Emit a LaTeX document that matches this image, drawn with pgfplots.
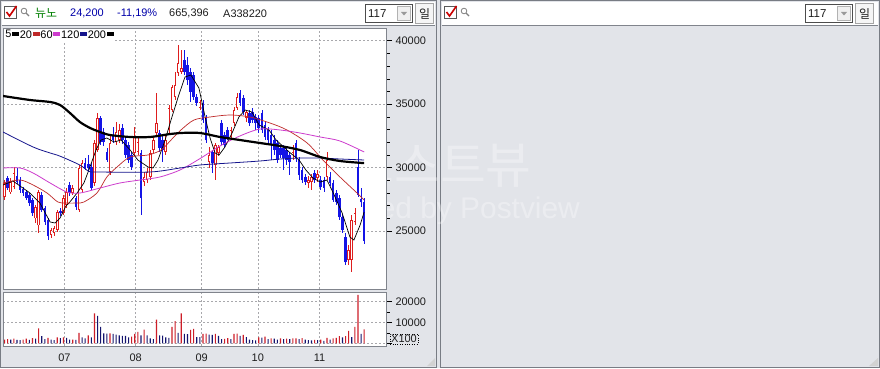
\documentclass[border=0pt]{standalone}
\usepackage{pgfplots}
\pgfplotsset{compat=1.18}
\usepackage{pgfplotstable}
\usepackage{fontspec}
\setmainfont{Liberation Sans}
\newfontfamily\kr{Noto Sans CJK KR}
\definecolor{winbg}{RGB}{226,228,233}
\definecolor{framegray}{RGB}{120,124,132}
\definecolor{axgray}{RGB}{128,132,140}
\definecolor{gridgray}{RGB}{168,168,172}
\definecolor{candred}{RGB}{222,30,30}
\definecolor{candblue}{RGB}{20,20,230}
\definecolor{volred}{RGB}{205,30,40}
\definecolor{volnavy}{RGB}{20,20,110}
\definecolor{ma20}{RGB}{190,40,40}
\definecolor{ma60}{RGB}{205,60,205}
\definecolor{ma120}{RGB}{20,20,140}
\definecolor{krgreen}{RGB}{0,128,0}
\definecolor{hdrblue}{RGB}{0,0,170}
\definecolor{hdrdark}{RGB}{30,30,30}

\pgfplotstableread{
i O H L C
0 27700 29000 27450 28800
2 28050 29200 27900 28850
3 28450 30050 28300 29550
10 26000 27050 25650 26900
11 25450 28250 24850 28050
15 24700 25250 24450 25100
16 24850 25400 24600 25250
17 25100 26650 24900 26500
19 26400 27850 26250 27600
20 27050 28400 26800 28050
22 28000 28650 27850 28400
24 26650 30200 26500 29950
25 28250 30600 28000 30350
29 28800 32150 28550 31950
30 31400 34300 31250 33900
34 29650 32550 29400 31950
36 32000 33600 31800 32800
37 32150 33450 31950 32950
42 31150 33200 30900 32400
43 31250 32350 31000 32000
45 28850 29650 28550 29250
46 29000 29950 28800 29650
47 29250 31400 29000 31150
48 31400 32400 31150 32150
49 32750 35900 32550 33500
52 31250 32550 31000 32150
53 32950 34950 32750 34700
54 34550 36500 34400 36350
55 35550 37550 35300 36500
56 37450 39650 37200 38250
57 37550 39250 37400 37850
63 34700 35300 34550 35150
66 30450 31600 29950 31000
68 30200 31950 29000 31800
69 31150 31800 30900 31600
73 32400 33200 32250 32950
74 33500 34800 33300 34550
75 34700 35900 34550 35550
78 33900 34550 33600 34400
93 31150 31800 30600 31600
98 28800 29350 28400 29000
99 28850 29500 28250 29250
101 29200 29800 28850 29500
104 29250 31250 29000 30600
111 22700 23900 22300 23500
112 22700 26250 21750 25850
113 25700 26800 25450 26400
}\up

\pgfplotstableread{
i O H L C
1 29200 29350 28250 28400
4 29350 29950 28700 28850
5 29000 29250 28000 28250
6 28300 28450 27750 28000
7 28050 28250 27450 27600
8 27850 28000 26950 27200
9 27450 27600 26200 26400
12 27850 28050 26500 26650
13 26800 26950 25450 25700
14 25850 26000 24300 24600
18 26600 26800 26200 26400
21 28650 28850 27750 28000
23 27600 27750 26650 26900
26 30350 30750 29800 29950
27 30300 31000 29650 29950
28 30050 30350 28250 28400
31 33900 34050 31800 32000
32 32800 33100 31700 32000
33 31250 31550 30450 30600
35 32550 33200 31950 32150
38 33100 33450 31850 32150
39 32150 32500 30750 31000
40 31800 32000 30350 30600
41 31000 31250 29800 30050
44 31150 31400 26250 27600
50 32750 32950 31250 31550
51 32150 32500 30450 31400
58 38500 39250 37300 37550
59 38100 38700 36500 36900
60 37550 37850 35150 35950
61 37300 37550 35300 35550
62 35550 35800 34850 35100
64 35100 35300 33500 33750
65 34000 34150 31950 32150
67 31250 31400 29550 30350
70 33500 33750 31800 32000
71 32550 32800 31600 31800
72 32950 33200 32150 32350
76 35900 36100 34850 35100
77 35500 35700 34150 34400
79 34300 34550 33300 33500
80 34400 34700 33500 33750
81 34000 34200 32950 33500
82 33900 34150 32750 33100
83 34300 34550 32750 32950
84 33350 33600 32150 32400
85 32950 33200 31800 32150
86 32550 32950 30600 31800
87 32150 32550 31000 31400
88 31950 32150 30350 30600
89 31550 31800 30750 31000
90 31550 31800 29800 30750
91 31400 31600 30200 30600
92 31000 31250 29400 30450
94 31950 32150 30450 30750
95 30600 30850 29000 29400
96 29800 30050 28800 29000
97 29250 29500 28650 28850
100 29550 29800 28800 29000
102 29000 29350 28250 28450
103 29000 29250 28050 28400
105 29250 29650 28550 28800
106 28800 29000 27250 27450
107 28000 28250 27050 27300
108 27600 27850 25850 26100
109 26100 26350 24850 25100
110 24550 24850 22300 22550
114 30050 31400 27700 27850
115 27500 28400 26900 27250
116 27300 27600 24000 24200
}\down

\pgfplotstableread{
i v
0 1800
1 2000
3 2200
6 1800
7 2200
9 2500
11 7100
14 2600
17 2800
19 2800
22 1800
24 5000
27 3800
29 14300
34 4800
41 3200
42 4500
43 5500
45 6600
49 11400
54 7900
55 10600
57 14300
60 6400
61 6900
64 4500
65 4600
68 4500
71 2100
72 2500
74 4500
75 4600
77 4000
82 2800
84 3200
86 2400
89 2400
91 2200
93 2300
94 2400
96 2500
100 1600
102 1800
104 2600
106 2400
107 2600
108 3400
110 3400
111 6000
113 7900
114 23200
116 6654
}\volup

\pgfplotstableread{
i v
2 1700
4 1600
5 1500
8 1600
10 2200
12 3400
13 2000
15 1800
16 1500
18 2500
20 2600
21 1700
23 1600
25 2800
26 2400
28 2800
30 13200
31 7900
32 4700
33 4600
35 4500
36 4200
37 3800
38 3600
39 3500
40 2800
44 3800
46 3800
47 2400
48 2000
50 3800
51 3700
52 2800
53 2600
56 5000
58 4500
59 4400
62 3000
63 2900
66 4200
67 4000
69 3500
70 2000
73 2000
76 3500
78 3000
79 1800
80 1500
81 1400
83 2700
85 2000
87 2200
88 1800
90 2000
92 2000
95 2000
97 1800
98 1500
99 1400
101 1500
103 1200
105 1800
109 2800
112 3000
115 4500
}\voldown

\pgfplotsset{chartax/.style={
  scale only axis, width=383bp,
  xmin=-0.5, xmax=123.05,
  enlargelimits=false,
  scaled y ticks=false, scaled x ticks=false,
  axis background/.style={fill=white},
  axis line style={draw=axgray},
  grid style={draw=gridgray, dash pattern=on 2bp off 2bp, line width=0.5bp},
  xmajorgrids, ymajorgrids,
  xtick={19.3,42.3,63.6,81.7,101.6},
  xtick style={draw=none},
  ytick pos=right, yticklabel pos=right,
  tick align=outside,
  major tick length=6bp, minor tick length=3.5bp,
  ytick style={draw=black, line width=0.5bp},
  tick label style={font=\fontsize{11}{11}\selectfont, text=hdrdark},
  /pgf/number format/1000 sep={},
  /pgf/number format/assume math mode=true,
}}
\pgfplotsset{candle/.style={forget plot, draw=none, mark=none}}

\begin{document}
\begin{tikzpicture}[x=1bp,y=1bp]
\useasboundingbox (0,0) rectangle (880,368);
\fill[winbg] (0,0) rectangle (880,368);
\draw[framegray] (0.5,0.5) rectangle (436.5,367.5);
\draw[framegray] (440.5,0.5) rectangle (879.5,367.5);
% left header
\fill[white] (2,343) rectangle (435,366);
\draw[axgray] (2,342.5) -- (435,342.5);
\draw[gray!70!black, fill=white, line width=0.6bp] (4.5,349.5) rectangle (16.5,361.5);
\draw[red!80!black, line width=1.6bp] (6.5,356) -- (9.5,352) -- (16.5,362);
\draw[gray, line width=0.8bp] (24,357) circle (2.8);
\draw[gray, line width=1.3bp] (26,355) -- (29,352);
\node[anchor=west, inner sep=0, text=krgreen, font=\kr\fontsize{12}{12}\selectfont] at (35,354.5) {뉴노};
\node[anchor=west, inner sep=0, text=hdrblue, font=\fontsize{11}{11}\selectfont] at (70,354.5) {24,200};
\node[anchor=west, inner sep=0, text=hdrblue, font=\fontsize{11}{11}\selectfont] at (117,354.5) {-11,19\%};
\node[anchor=west, inner sep=0, text=hdrdark, font=\fontsize{11}{11}\selectfont] at (169,354.5) {665,396};
\node[anchor=west, inner sep=0, text=hdrdark, font=\fontsize{11}{11}\selectfont] at (223,354.5) {A338220};
\draw[black!70, fill=white] (365.5,345.5) rectangle (412.5,363.5);
\node[anchor=west, inner sep=0, text=hdrdark, font=\fontsize{11.5}{11.5}\selectfont] at (368,354.5) {117};
\draw[gray!60, fill=gray!12] (397.5,347.5) rectangle (410.5,361.5);
\fill[gray!80] (401,356) -- (407,356) -- (404,352.5) -- cycle;
\draw[gray!70, fill=gray!8] (415.5,344.5) rectangle (433.5,364.5);
\node[inner sep=0, text=hdrdark, font=\kr\fontsize{12}{12}\selectfont] at (424.5,354.5) {일};
% right header
\fill[white] (442,343) rectangle (878,366);
\draw[axgray] (442,342.5) -- (878,342.5);
\draw[gray!70!black, fill=white, line width=0.6bp] (444.5,349.5) rectangle (456.5,361.5);
\draw[red!80!black, line width=1.6bp] (446.5,356) -- (449.5,352) -- (456.5,362);
\draw[gray, line width=0.8bp] (464,357) circle (2.8);
\draw[gray, line width=1.3bp] (466,355) -- (469,352);
\draw[black!70, fill=white] (805.5,345.5) rectangle (852.5,363.5);
\node[anchor=west, inner sep=0, text=hdrdark, font=\fontsize{11.5}{11.5}\selectfont] at (808,354.5) {117};
\draw[gray!60, fill=gray!12] (837.5,347.5) rectangle (850.5,361.5);
\fill[gray!80] (841,356) -- (847,356) -- (844,352.5) -- cycle;
\draw[gray!70, fill=gray!8] (855.5,344.5) rectangle (873.5,364.5);
\node[inner sep=0, text=hdrdark, font=\kr\fontsize{12}{12}\selectfont] at (864.5,354.5) {일};
% grips
\fill[gray!35] (427,2) -- (435,2) -- (435,10) -- cycle;
\fill[gray!35] (869,2) -- (878,2) -- (878,10) -- cycle;
% watermark
\node[text=white, opacity=0.33, inner sep=0, font=\kr\fontsize{50}{50}\selectfont] at (440,202) {포스트뷰};
\node[text=white, opacity=0.33, inner sep=0, font=\fontsize{30}{30}\selectfont] at (437,157) {Powered by Postview};

% price panel
\begin{axis}[chartax, at={(3bp,79bp)}, anchor=south west, height=261bp,
  ymin=20430, ymax=41000,
  ytick={25000,30000,35000,40000}, minor y tick num=4,
  xticklabels={},
  legend columns=-1, legend plot pos=right, legend cell align=left,
  legend style={at={(0,1)}, anchor=north west, xshift=1bp, yshift=-1bp, draw=none, fill=white,
    inner sep=0.5bp, font=\fontsize{11}{11}\selectfont, nodes={inner sep=0.7bp}},
  legend image code/.code={\fill[#1, draw=none] (0bp,-1.5bp) rectangle (7bp,2.5bp);},
]
% wicks
\addplot[candle, error bars/.cd, y dir=both, y explicit, error mark=none,
  error bar style={line width=0.7bp, draw=candred}]
  table[x=i, y=C, y error plus expr=\thisrow{H}-\thisrow{C}, y error minus expr=\thisrow{C}-\thisrow{L}] {\up};
\addplot[candle, error bars/.cd, y dir=both, y explicit, error mark=none,
  error bar style={line width=0.7bp, draw=candblue}]
  table[x=i, y=C, y error plus expr=\thisrow{H}-\thisrow{C}, y error minus expr=\thisrow{C}-\thisrow{L}] {\down};
% bodies
\addplot[candle, error bars/.cd, y dir=plus, y explicit, error mark=none,
  error bar style={line width=2.6bp, draw=candred}]
  table[x=i, y=O, y error expr=\thisrow{C}-\thisrow{O}] {\up};
\addplot[candle, error bars/.cd, y dir=plus, y explicit, error mark=none,
  error bar style={line width=0.9bp, draw=white, shorten >=0.8bp, shorten <=0.8bp}]
  table[x=i, y=O, y error expr=\thisrow{C}-\thisrow{O}] {\up};
\addplot[candle, error bars/.cd, y dir=plus, y explicit, error mark=none,
  error bar style={line width=2.6bp, draw=candblue}]
  table[x=i, y=C, y error expr=\thisrow{O}-\thisrow{C}] {\down};
% moving averages
\addplot[color=black, line width=0.7bp] coordinates {
(-0.5,28626) (2.7,28941) (5.0,28547) (8.2,27995) (11.4,27207) (14.7,25710) (16.3,25631) (17.9,26025) (19.8,26971) (20.8,27207) (23.4,27995) (25.6,28784) (27.2,29809) (29.5,31385) (31.1,32173) (33.0,32331) (35.3,32016) (37.6,32173) (40.5,31385) (43.0,30597) (46.3,30045) (47.9,29966) (49.5,30597) (51.8,32173) (53.7,33750) (56.0,35562) (58.2,37139) (60.1,37296) (62.7,36272) (64.7,33986) (66.3,32331) (67.9,31149) (69.2,30991) (71.1,31622) (73.4,32725) (75.6,33986) (77.6,34538) (79.8,34380) (82.1,33356) (85.3,32962) (87.6,32173) (91.8,31228) (95.0,30597) (97.2,29809) (99.5,29178) (101.8,28862) (104.0,29020) (105.9,28074) (108.9,26419) (111.4,24528) (112.7,24291) (114.7,25473) (116,26498)};
\addlegendentry{5}
\addplot[color=ma20, line width=0.7bp, smooth] coordinates {
(-0.5,28784) (5.0,29020) (9.2,28626) (13.7,27995) (17.2,27286) (19.8,27207) (23.4,27207) (25.6,27286) (29.8,27995) (33.0,29257) (36.3,30045) (40.5,30833) (46.3,30991) (50.5,31385) (53.7,32173) (56.9,32962) (61.1,33750) (66.3,33986) (72.7,34144) (79.2,33986) (85.6,33513) (91.1,32962) (97.6,31937) (102.7,30597) (108.2,29257) (113.7,27995) (116,27444)};
\addlegendentry{20}
\addplot[color=ma60, line width=0.8bp, smooth] coordinates {
(-0.5,29966) (5.0,29966) (9.2,29572) (14.7,28784) (20.1,28074) (24.3,27995) (30.8,28389) (37.2,28784) (43.7,29020) (50.1,29257) (56.6,29809) (63.0,30700) (69.5,31700) (75.9,32488) (82.4,33040) (88.9,32962) (95.3,32725) (101.8,32410) (108.2,32095) (116,31228)};
\addlegendentry{60}
\addplot[color=ma120, line width=0.8bp, smooth] coordinates {
(-0.5,32804) (9.2,31622) (14.7,31149) (17.9,30900) (24.3,30200) (27.2,29700) (30,29651) (46.9,29651) (56.6,29966) (63.0,30203) (72.7,30360) (82.4,30518) (88.9,30676) (95.3,30754) (101.8,30754) (108.2,30676) (116,30597)};
\addlegendentry{120}
\addplot[color=black, line width=2.2bp, smooth] coordinates {
(-0.5,35641) (8.2,35326) (14.7,35168) (17.9,34932) (21.1,34301) (24.3,33592) (27.6,33119) (30.8,32804) (34.0,32567) (40.5,32410) (46.9,32410) (53.4,32646) (56.6,32725) (63.0,32725) (69.5,32410) (75.9,32173) (82.4,31937) (88.9,31700) (95.3,31385) (101.8,30833) (108.2,30518) (116,30350)};
\addlegendentry{200}
\end{axis}

% volume panel
\begin{axis}[chartax, at={(3bp,22bp)}, anchor=south west, height=54bp,
  ymin=-1300, ymax=24600,
  ytick={0,10000,20000}, yticklabels={,10000,20000},
  minor ytick={5000,15000},
  xticklabels={07,08,09,10,11},
  xticklabel style={yshift=2bp},
]
\addplot[ybar, bar width=1.1bp, bar shift=0pt, draw=none, fill=volred] table[x=i, y=v] {\volup};
\addplot[ybar, bar width=1.1bp, bar shift=0pt, draw=none, fill=volnavy] table[x=i, y=v] {\voldown};
\end{axis}

\node[draw=black, dotted, inner sep=1bp, text=hdrdark, font=\fontsize{11}{11}\selectfont] at (404,29) {X100};
\end{tikzpicture}
\end{document}
